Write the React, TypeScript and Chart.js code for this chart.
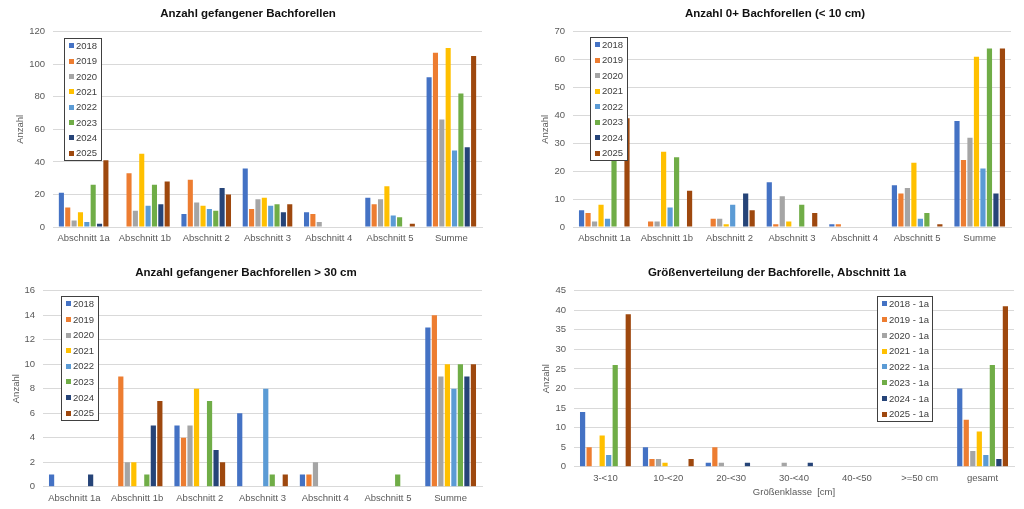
import React, { useEffect, useRef } from "react";
import { Chart, registerables } from "chart.js";

Chart.register(...registerables);

const FONT = "'Liberation Sans', Arial, sans-serif";
const TICK_COLOR = "#595959";
const GRID_COLOR = "#D9D9D9";

const YEARS = ["2018", "2019", "2020", "2021", "2022", "2023", "2024", "2025"];
const YEARS_1A = ["2018 - 1a", "2019 - 1a", "2020 - 1a", "2021 - 1a", "2022 - 1a", "2023 - 1a", "2024 - 1a", "2025 - 1a"];
const COLORS = ["#4472C4", "#ED7D31", "#A5A5A5", "#FFC000", "#5B9BD5", "#70AD47", "#264478", "#9E480E"];

const SECTIONS = ["Abschnitt 1a", "Abschnitt 1b", "Abschnitt 2", "Abschnitt 3", "Abschnitt 4", "Abschnitt 5", "Summe"];
const SIZE_CLASSES = ["3-<10", "10-<20", "20-<30", "30-<40", "40-<50", ">=50 cm", "gesamt"];

// Anzahl gefangener Bachforellen (rows: 2018..2025, columns: SECTIONS)
const ALL_2018 = [21, 0, 8, 36, 9, 18, 92];
const ALL_2019 = [12, 33, 29, 11, 8, 14, 107];
const ALL_2020 = [4, 10, 15, 17, 3, 17, 66];
const ALL_2021 = [9, 45, 13, 18, 0, 25, 110];
const ALL_2022 = [3, 13, 11, 13, 0, 7, 47];
const ALL_2023 = [26, 26, 10, 14, 0, 6, 82];
const ALL_2024 = [2, 14, 24, 9, 0, 0, 49];
const ALL_2025 = [41, 28, 20, 14, 0, 2, 105];

// Anzahl 0+ Bachforellen (< 10 cm)
const YOUNG_2018 = [6, 0, 0, 16, 1, 15, 38];
const YOUNG_2019 = [5, 2, 3, 1, 1, 12, 24];
const YOUNG_2020 = [2, 2, 3, 11, 0, 14, 32];
const YOUNG_2021 = [8, 27, 1, 2, 0, 23, 61];
const YOUNG_2022 = [3, 7, 8, 0, 0, 3, 21];
const YOUNG_2023 = [26, 25, 0, 8, 0, 5, 64];
const YOUNG_2024 = [0, 0, 12, 0, 0, 0, 12];
const YOUNG_2025 = [39, 13, 6, 5, 0, 1, 64];

// Anzahl gefangener Bachforellen > 30 cm
const BIG_2018 = [1, 0, 5, 6, 1, 0, 13];
const BIG_2019 = [0, 9, 4, 0, 1, 0, 14];
const BIG_2020 = [0, 2, 5, 0, 2, 0, 9];
const BIG_2021 = [0, 2, 8, 0, 0, 0, 10];
const BIG_2022 = [0, 0, 0, 8, 0, 0, 8];
const BIG_2023 = [0, 1, 7, 1, 0, 1, 10];
const BIG_2024 = [1, 5, 3, 0, 0, 0, 9];
const BIG_2025 = [0, 7, 2, 1, 0, 0, 10];

// Größenverteilung der Bachforelle, Abschnitt 1a (columns: SIZE_CLASSES)
const SIZE_2018 = [14, 5, 1, 0, 0, 0, 20];
const SIZE_2019 = [5, 2, 5, 0, 0, 0, 12];
const SIZE_2020 = [0, 2, 1, 1, 0, 0, 4];
const SIZE_2021 = [8, 1, 0, 0, 0, 0, 9];
const SIZE_2022 = [3, 0, 0, 0, 0, 0, 3];
const SIZE_2023 = [26, 0, 0, 0, 0, 0, 26];
const SIZE_2024 = [0, 0, 1, 1, 0, 0, 2];
const SIZE_2025 = [39, 2, 0, 0, 0, 0, 41];

const panelTitlePlugin = {
  id: "panelTitle",
  afterDraw(chart: any, _args: any, opts: any) {
    if (!opts || !opts.text) return;
    const ctx = chart.ctx;
    ctx.save();
    ctx.font = `bold ${opts.size}px ${FONT}`;
    ctx.fillStyle = opts.color;
    ctx.textAlign = "center";
    ctx.textBaseline = "middle";
    ctx.fillText(opts.text, opts.x, opts.y);
    ctx.restore();
  },
};

const boxLegendPlugin = {
  id: "boxLegend",
  afterDraw(chart: any, _args: any, opts: any) {
    if (!opts || !opts.width) return;
    const { left, top, width, height } = opts;
    const ctx = chart.ctx;
    const ds = chart.data.datasets;
    ctx.save();
    ctx.fillStyle = "#ffffff";
    ctx.fillRect(left, top, width, height);
    ctx.strokeStyle = "#404040";
    ctx.lineWidth = 1;
    ctx.strokeRect(Math.round(left) + 0.5, Math.round(top) + 0.5, Math.round(width) - 1, Math.round(height) - 1);
    const n = ds.length;
    ctx.font = `${opts.fontSize}px ${FONT}`;
    ctx.textAlign = "left";
    ctx.textBaseline = "middle";
    ds.forEach((d: any, i: number) => {
      const cy = top + (height * (i + 0.5)) / n;
      ctx.fillStyle = d.backgroundColor;
      ctx.fillRect(left + 5, Math.round(cy - 2.5), 5, 5);
      ctx.fillStyle = "#404040";
      ctx.fillText(d.label, left + 12, cy + 0.5);
    });
    ctx.restore();
  },
};

type PanelCfg = {
  x: number;
  y: number;
  w: number;
  h: number;
  title: string;
  titleX: number;
  titleY: number;
  labels: string[];
  seriesLabels: string[];
  series: number[][];
  yMax: number;
  yStep: number;
  area: { left: number; top: number; right: number; bottom: number };
  yTitlePad: number;
  xTitle?: string;
  legend: { left: number; top: number; width: number; height: number };
};

const PANELS: PanelCfg[] = [
  {
    x: 0, y: 0, w: 512, h: 250,
    title: "Anzahl gefangener Bachforellen", titleX: 248, titleY: 14,
    labels: SECTIONS, seriesLabels: YEARS,
    series: [ALL_2018, ALL_2019, ALL_2020, ALL_2021, ALL_2022, ALL_2023, ALL_2024, ALL_2025],
    yMax: 120, yStep: 20,
    area: { left: 53, top: 31.7, right: 482, bottom: 227 },
    yTitlePad: 15,
    legend: { left: 64, top: 38, width: 38, height: 123 },
  },
  {
    x: 512, y: 0, w: 512, h: 250,
    title: "Anzahl 0+ Bachforellen (< 10 cm)", titleX: 263, titleY: 14,
    labels: SECTIONS, seriesLabels: YEARS,
    series: [YOUNG_2018, YOUNG_2019, YOUNG_2020, YOUNG_2021, YOUNG_2022, YOUNG_2023, YOUNG_2024, YOUNG_2025],
    yMax: 70, yStep: 10,
    area: { left: 61, top: 31.7, right: 499, bottom: 227 },
    yTitlePad: 28,
    legend: { left: 78, top: 37, width: 38, height: 124 },
  },
  {
    x: 0, y: 250, w: 512, h: 259,
    title: "Anzahl gefangener Bachforellen > 30 cm", titleX: 246, titleY: 23,
    labels: SECTIONS, seriesLabels: YEARS,
    series: [BIG_2018, BIG_2019, BIG_2020, BIG_2021, BIG_2022, BIG_2023, BIG_2024, BIG_2025],
    yMax: 16, yStep: 2,
    area: { left: 43, top: 40.7, right: 482, bottom: 236.7 },
    yTitlePad: 11,
    legend: { left: 61, top: 46, width: 38, height: 125 },
  },
  {
    x: 512, y: 250, w: 512, h: 259,
    title: "Größenverteilung der Bachforelle, Abschnitt 1a", titleX: 265, titleY: 23,
    labels: SIZE_CLASSES, seriesLabels: YEARS_1A,
    series: [SIZE_2018, SIZE_2019, SIZE_2020, SIZE_2021, SIZE_2022, SIZE_2023, SIZE_2024, SIZE_2025],
    yMax: 45, yStep: 5,
    area: { left: 62, top: 40.7, right: 502, bottom: 216.7 },
    yTitlePad: 29,
    xTitle: "Größenklasse  [cm]",
    legend: { left: 365, top: 46, width: 56, height: 126 },
  },
];

function buildConfig(cfg: PanelCfg): any {
  const tickFont = { size: 9.5, family: FONT };
  return {
    type: "bar",
    data: {
      labels: cfg.labels,
      datasets: cfg.series.map((vals, i) => ({
        label: cfg.seriesLabels[i],
        data: vals,
        backgroundColor: COLORS[i],
        borderWidth: 0,
        categoryPercentage: 0.83,
        barPercentage: 0.8,
      })),
    },
    options: {
      responsive: false,
      animation: false,
      layout: { padding: { left: 0, top: cfg.area.top, right: cfg.w - cfg.area.right, bottom: 0 } },
      plugins: {
        legend: { display: false },
        title: { display: false },
        tooltip: { enabled: false },
        panelTitle: { text: cfg.title, x: cfg.titleX, y: cfg.titleY, size: 11.5, color: "#111111" },
        boxLegend: { ...cfg.legend, fontSize: 9.5 },
      },
      scales: {
        x: {
          grid: { display: false, drawTicks: false },
          border: { display: true, color: GRID_COLOR },
          ticks: { color: TICK_COLOR, font: tickFont, padding: 6, maxRotation: 0, autoSkip: false },
          title: cfg.xTitle
            ? { display: true, text: cfg.xTitle, color: TICK_COLOR, font: tickFont, padding: { top: 0, bottom: 10.5 } }
            : { display: false },
          afterFit: (s: any) => {
            s.height = cfg.h - cfg.area.bottom;
          },
        },
        y: {
          min: 0,
          max: cfg.yMax,
          ticks: { stepSize: cfg.yStep, color: TICK_COLOR, font: tickFont, padding: 8 },
          grid: { color: GRID_COLOR, drawTicks: false },
          border: { display: false },
          title: {
            display: true,
            text: "Anzahl",
            color: TICK_COLOR,
            font: tickFont,
            padding: { top: cfg.yTitlePad, bottom: 0 },
          },
          afterFit: (s: any) => {
            s.width = cfg.area.left;
          },
        },
      },
    },
    plugins: [panelTitlePlugin, boxLegendPlugin],
  };
}

function Panel({ cfg }: { cfg: PanelCfg }) {
  const ref = useRef<HTMLCanvasElement>(null);
  useEffect(() => {
    if (!ref.current) return;
    const chart = new Chart(ref.current, buildConfig(cfg));
    return () => chart.destroy();
  }, [cfg]);
  return (
    <div style={{ position: "absolute", left: cfg.x, top: cfg.y, width: cfg.w, height: cfg.h }}>
      <canvas ref={ref} width={cfg.w} height={cfg.h} style={{ display: "block" }} />
    </div>
  );
}

export default function App() {
  return (
    <div
      style={{
        position: "absolute",
        left: 0,
        top: 0,
        width: 1024,
        height: 509,
        background: "#ffffff",
        overflow: "hidden",
      }}
    >
      {PANELS.map((p, i) => (
        <Panel key={i} cfg={p} />
      ))}
    </div>
  );
}
